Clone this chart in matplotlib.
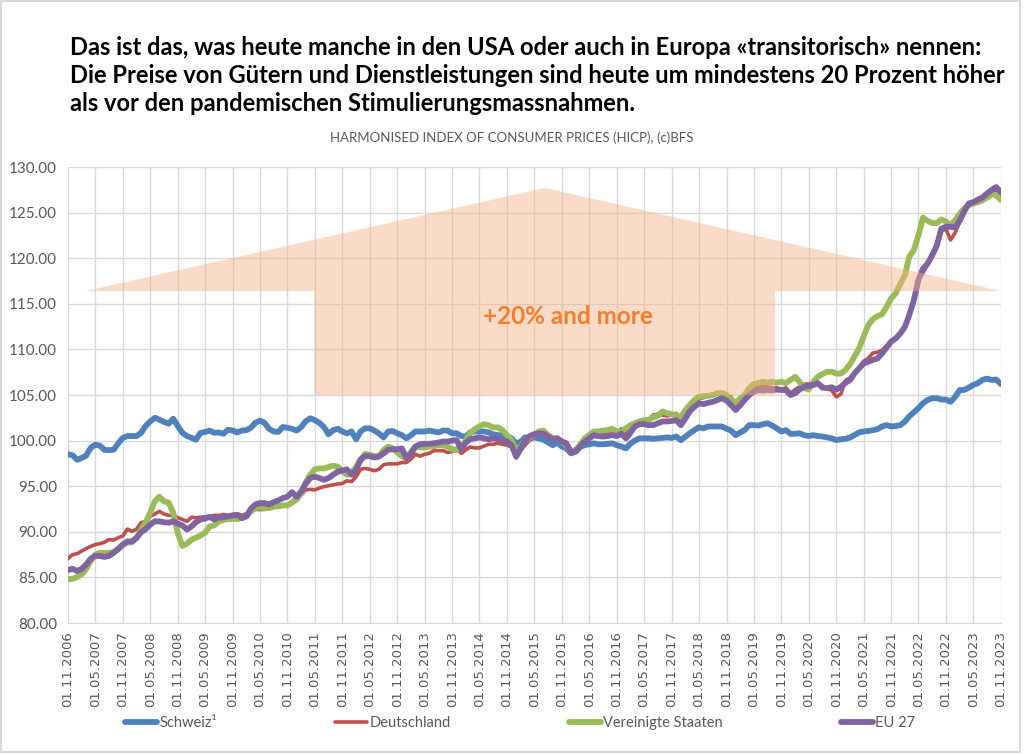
import numpy as np
import pandas as pd
import matplotlib
matplotlib.use('Agg')
import matplotlib.pyplot as plt
from matplotlib.patches import Polygon, Rectangle

# %% Data (monthly HICP), 01.11.2006 - 01.11.2023
dates = pd.date_range('2006-11-01', '2023-11-01', freq='MS')

schweiz = [
    98.5, 98.4,
    97.9, 98.1, 98.35, 99.2, 99.55, 99.45, 99.0, 98.95, 99.0, 99.7, 100.3, 100.5,
    100.5, 100.5, 100.85, 101.6, 102.1, 102.5, 102.3, 102.05, 101.85, 102.4, 101.6, 100.85,
    100.5, 100.3, 100.1, 100.85, 100.95, 101.1, 100.85, 100.9, 100.75, 101.2, 101.1, 100.9,
    101.1, 101.15, 101.4, 101.95, 102.2, 101.95, 101.3, 101.0, 100.95, 101.5, 101.4, 101.3,
    101.1, 101.5, 102.1, 102.45, 102.25, 101.95, 101.5, 100.7, 101.15, 101.3, 101.0, 100.8,
    101.0, 100.15, 101.0, 101.35, 101.35, 101.1, 100.8, 100.35, 101.0, 101.05, 100.8, 100.6,
    100.25, 100.6, 101.0, 101.0, 101.0, 101.1, 101.0, 100.9, 101.1, 101.1, 100.8, 100.8,
    100.5, 100.45, 100.9, 101.0, 101.0, 101.0, 100.9, 100.7, 100.6, 100.6, 100.5, 100.25,
    99.7, 99.9, 100.35, 100.25, 100.35, 100.25, 100.1, 99.8, 99.5, 99.8, 99.35, 99.15,
    98.6, 98.8, 99.3, 99.5, 99.6, 99.7, 99.6, 99.6, 99.65, 99.7, 99.5, 99.35,
    99.15, 99.7, 100.0, 100.25, 100.25, 100.25, 100.2, 100.25, 100.3, 100.35, 100.3, 100.45,
    100.05, 100.45, 100.8, 101.15, 101.45, 101.35, 101.55, 101.55, 101.55, 101.55, 101.3, 101.1,
    100.6, 100.9, 101.15, 101.7, 101.7, 101.65, 101.8, 101.9, 101.65, 101.35, 101.0, 101.15,
    100.75, 100.75, 100.8, 100.6, 100.5, 100.6, 100.5, 100.45, 100.35, 100.25, 100.05, 100.15,
    100.2, 100.35, 100.6, 100.9, 101.0, 101.05, 101.15, 101.25, 101.55, 101.7, 101.55, 101.6,
    101.7, 102.1, 102.65, 103.1, 103.55, 104.1, 104.45, 104.65, 104.65, 104.5, 104.5, 104.25,
    104.8, 105.55, 105.55, 105.8, 106.1, 106.3, 106.65, 106.8, 106.65, 106.7, 106.2,
]

deutschland = [
    87.05, 87.5,
    87.6, 87.9, 88.15, 88.4, 88.6, 88.7, 88.85, 89.15, 89.1, 89.35, 89.55, 90.3,
    90.05, 90.3, 91.0, 91.15, 91.7, 91.95, 92.25, 91.95, 91.8, 91.8, 91.55, 91.35,
    91.15, 91.6, 91.55, 91.6, 91.65, 91.7, 91.8, 91.8, 91.9, 91.8, 91.9, 92.0,
    91.8, 92.0, 92.25, 92.45, 92.45, 92.45, 92.6, 92.7, 92.75, 92.8, 92.9, 93.35,
    93.85, 94.05, 94.6, 94.65, 94.6, 94.8, 94.95, 95.05, 95.15, 95.25, 95.3, 95.6,
    95.5, 96.05, 96.85, 96.95, 96.85, 96.7, 96.85, 97.35, 97.45, 97.45, 97.45, 97.6,
    97.6, 98.0, 98.5, 98.3, 98.5, 98.6, 98.9, 98.9, 98.9, 98.7, 98.8, 99.2,
    98.6, 99.0, 99.3, 99.2, 99.2, 99.4, 99.6, 99.6, 99.7, 99.6, 99.5, 99.3,
    98.1, 98.95, 99.5, 100.05, 100.5, 100.8, 101.0, 100.7, 100.3, 100.3, 100.0, 99.8,
    98.9, 99.1, 99.7, 100.0, 100.4, 100.7, 100.9, 100.8, 100.9, 101.1, 100.9, 101.3,
    100.8, 101.5, 101.8, 102.2, 102.1, 102.3, 102.8, 102.9, 102.8, 102.7, 102.8, 103.0,
    102.1, 102.7, 103.6, 104.0, 104.6, 104.7, 105.0, 105.1, 105.1, 105.2, 105.0, 104.8,
    103.7, 104.3, 104.9, 105.7, 105.8, 105.9, 106.0, 105.9, 105.8, 105.8, 105.6, 105.8,
    105.2, 105.6, 105.9, 106.2, 106.2, 106.4, 106.3, 106.0, 105.7, 105.5, 104.8, 105.1,
    106.6, 106.9, 107.4, 108.0, 108.7, 109.0, 109.6, 109.7, 109.9, 110.4, 110.9, 111.2,
    111.7, 112.6, 113.9, 115.6, 117.5, 118.4, 119.3, 120.1, 121.2, 123.0, 123.2, 122.0,
    122.8, 124.0, 125.0, 125.8, 125.9, 126.3, 126.6, 127.0, 127.3, 127.5, 126.9,
]

usa = [
    84.8, 84.85,
    85.05, 85.35, 85.9, 86.8, 87.5, 87.7, 87.7, 87.7, 87.8, 88.05, 88.6, 88.8,
    88.85, 89.35, 90.25, 91.0, 92.1, 93.35, 93.85, 93.35, 93.2, 92.1, 89.9, 88.45,
    88.7, 89.15, 89.35, 89.6, 89.9, 90.6, 90.7, 91.15, 91.3, 91.4, 91.4, 91.4,
    91.5, 91.7, 92.25, 92.6, 92.7, 92.6, 92.6, 92.75, 92.8, 92.9, 92.9, 93.2,
    93.55, 94.25, 95.4, 96.25, 96.85, 96.95, 96.95, 97.1, 97.25, 97.15, 96.7, 96.25,
    96.5, 97.1, 97.9, 98.55, 98.45, 98.3, 98.3, 98.95, 99.35, 99.15, 98.7, 98.3,
    98.05, 98.8, 99.35, 99.25, 99.25, 99.35, 99.4, 99.5, 99.5, 99.35, 99.05, 98.95,
    99.35, 100.05, 100.8, 101.25, 101.55, 101.8, 101.7, 101.45, 101.45, 101.15, 100.6, 100.05,
    98.9, 99.35, 100.05, 100.35, 100.65, 101.0, 101.1, 100.6, 100.25, 100.25, 99.9, 99.5,
    98.8, 99.0, 99.5, 100.25, 100.6, 101.0, 101.0, 101.1, 101.15, 101.3, 101.0, 101.0,
    101.35, 101.7, 101.9, 102.1, 102.25, 102.25, 102.55, 102.7, 103.2, 103.0, 102.9, 102.8,
    102.6, 103.35, 103.9, 104.45, 104.8, 104.9, 104.9, 105.0, 105.2, 105.25, 105.0, 104.5,
    104.15, 104.65, 105.0, 105.75, 106.2, 106.3, 106.45, 106.35, 106.45, 106.35, 106.45, 106.3,
    106.65, 107.0, 106.45, 105.75, 105.6, 106.45, 107.0, 107.3, 107.55, 107.55, 107.35, 107.35,
    107.75, 108.4, 109.2, 110.1, 111.4, 112.65, 113.3, 113.65, 113.85, 114.65, 115.6, 116.15,
    117.2, 118.15, 120.15, 120.9, 122.5, 124.45, 124.1, 123.85, 123.85, 124.25, 124.0, 123.6,
    124.15, 124.9, 125.45, 125.8, 126.0, 126.15, 126.35, 126.65, 127.0, 126.9, 126.4,
]

eu27 = [
    85.8, 85.95,
    85.7, 85.95, 86.4, 87.05, 87.35, 87.35, 87.25, 87.35, 87.7, 88.15, 88.6, 88.95,
    88.95, 89.35, 89.95, 90.3, 90.8, 91.15, 91.15, 91.05, 91.0, 91.15, 90.9, 90.7,
    90.25, 90.6, 91.05, 91.35, 91.45, 91.65, 91.35, 91.55, 91.6, 91.7, 91.8, 91.85,
    91.5, 91.7, 92.5, 93.0, 93.15, 93.15, 93.0, 93.25, 93.45, 93.7, 93.85, 94.35,
    93.85, 94.45, 95.25, 95.9, 96.05, 95.9, 95.7, 95.9, 96.25, 96.6, 96.7, 96.85,
    96.25, 96.8, 97.9, 98.3, 98.3, 98.15, 98.25, 98.6, 99.0, 99.05, 99.05, 99.15,
    98.05, 98.6, 99.35, 99.6, 99.65, 99.65, 99.7, 99.8, 99.9, 99.9, 100.0, 100.05,
    99.05, 99.8, 100.15, 100.25, 100.35, 100.25, 100.15, 100.25, 100.15, 100.05, 99.9, 99.5,
    98.25, 99.15, 100.05, 100.5, 100.7, 100.8, 100.75, 100.45, 100.15, 100.25, 99.9, 99.7,
    98.7, 98.8, 99.35, 99.9, 100.25, 100.6, 100.5, 100.45, 100.5, 100.6, 100.5, 100.75,
    100.25, 100.9, 101.55, 101.8, 101.8, 101.7, 101.7, 101.9, 102.1, 102.1, 102.15, 102.25,
    101.7, 102.45, 103.2, 103.7, 104.1, 104.0, 104.15, 104.25, 104.45, 104.65, 104.4, 103.9,
    103.35, 103.9, 104.45, 105.0, 105.35, 105.55, 105.5, 105.55, 105.5, 105.6, 105.55, 105.55,
    105.0, 105.2, 105.6, 105.9, 106.0, 106.1, 106.3, 105.8, 105.75, 105.85, 105.6, 105.9,
    106.35, 106.65, 107.35, 107.9, 108.45, 108.65, 108.85, 109.0, 109.55, 110.2, 110.85, 111.2,
    111.75, 112.5, 113.75, 115.4, 117.6, 118.85, 119.4, 120.35, 121.4, 123.25, 123.45, 123.45,
    123.35, 124.15, 125.1, 126.0, 126.15, 126.4, 126.65, 127.1, 127.5, 127.8, 127.25,
]

series_names = ['Schweiz¹', 'Deutschland', 'Vereinigte Staaten', 'EU 27']

title_text = ("Das ist das, was heute manche in den USA oder auch in Europa «transitorisch» nennen:\n"
              "Die Preise von Gütern und Dienstleistungen sind heute um mindestens 20 Prozent höher\n"
              "als vor den pandemischen Stimulierungsmassnahmen.")
subtitle_text = 'HARMONISED INDEX OF CONSUMER PRICES (HICP), (c)BFS'
arrow_text = '+20% and more'

# %% Plot
plt.rcParams['font.family'] = ['Lato', 'DejaVu Sans']
grey = '#595959'

fig = plt.figure(figsize=(10.24, 7.55), dpi=100)
ax = fig.add_axes([0.0664, 0.1748, 0.911, 0.604])

line_kw = dict(solid_capstyle='round', solid_joinstyle='round')
ax.plot(dates, schweiz, color='#4F81BD', lw=4.2, label=series_names[0], zorder=3, **line_kw)
ax.plot(dates, deutschland, color='#C0504D', lw=2.6, label=series_names[1], zorder=4, **line_kw)
ax.plot(dates, usa, color='#9BBB59', lw=4.2, label=series_names[2], zorder=5, **line_kw)
ax.plot(dates, eu27, color='#8064A2', lw=4.2, label=series_names[3], zorder=6, **line_kw)

# big up-arrow annotation, in axes fractions
arrow = Polygon([(0.019, 0.728), (0.511, 0.954), (1.0, 0.728), (0.758, 0.728),
                 (0.758, 0.5), (0.264, 0.5), (0.264, 0.728)],
                closed=True, transform=ax.transAxes, facecolor='#F4B183', alpha=0.45,
                edgecolor='none', zorder=7)
ax.add_patch(arrow)
ax.text(0.536, 0.673, arrow_text, transform=ax.transAxes, ha='center', va='center',
        color='#F47F2A', fontsize=17.5, fontweight='bold', zorder=8)

# axes
ax.set_ylim(80, 130)
ax.set_yticks(np.arange(80, 131, 5))
ax.yaxis.set_major_formatter(matplotlib.ticker.FuncFormatter(lambda v, p: '%.2f' % v))
ax.set_xlim(dates[0], dates[-1])
ticks = pd.date_range(dates[0], dates[-1], freq='6MS')
ax.set_xticks(ticks)
ax.set_xticklabels([t.strftime('%d.%m.%Y') for t in ticks], rotation=90,
                   fontfamily='DejaVu Sans', fontsize=9.5)
ax.tick_params(axis='both', length=0, colors=grey)
ax.tick_params(axis='y', labelsize=11, pad=8)
ax.tick_params(axis='x', pad=6)
ax.grid(True, color='#D9D9D9', lw=1.0)
ax.set_axisbelow(True)
for s in ['top', 'right', 'left']:
    ax.spines[s].set_visible(False)
ax.spines['bottom'].set_color('#D9D9D9')

# legend
leg = fig.legend(loc='center', bbox_to_anchor=(0.508, 0.042), ncol=4, frameon=False,
                 fontsize=10.5, handlelength=2.2, handletextpad=0.15, columnspacing=8.1)
for t in leg.get_texts():
    t.set_color(grey)

# titles
fig.text(0.068, 0.9, title_text, ha='left', va='center', fontsize=17.1,
         fontweight='bold', color='black', linespacing=1.25)
fig.text(0.5, 0.817, subtitle_text, ha='center', va='center', fontsize=9.5, color=grey)

# chart border
fig.patches.append(Rectangle((0.001, 0.004), 0.995, 0.995, transform=fig.transFigure,
                             fill=False, edgecolor='#D9D9D9', lw=1.5))

plt.savefig('out.png', dpi=100, facecolor='white')
